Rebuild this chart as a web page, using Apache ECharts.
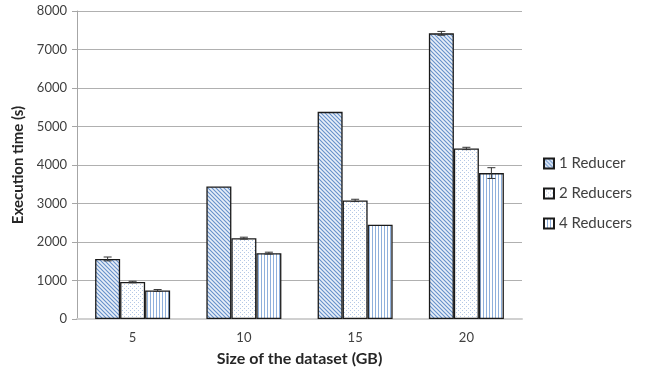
<!DOCTYPE html>
<html><head><meta charset="utf-8">
<script src="https://cdn.jsdelivr.net/npm/echarts@6/dist/echarts.min.js"></script>
<style>html,body{margin:0;padding:0;background:#fff}#c{width:649px;height:376px}</style>
</head><body><div id="c"></div>
<script>
const categories = ['5','10','15','20'];
const seriesNames = ['1 Reducer','2 Reducers','4 Reducers'];
const r1 = [1560, 3440, 5380, 7420];
const r2 = [960, 2100, 3080, 4430];
const r4 = [740, 1710, 2450, 3790];
const e1 = [50, 0, 0, 50];
const e2 = [20, 25, 30, 30];
const e4 = [25, 25, 0, 140];
const yTicks = [0, 1000, 2000, 3000, 4000, 5000, 6000, 7000, 8000];

function pat(kind){
  const c = document.createElement('canvas');
  const ctx = c.getContext('2d');
  if(kind===0){
    c.width=4;c.height=4;
    ctx.fillStyle='#e8eff8';ctx.fillRect(0,0,4,4);
    ctx.strokeStyle='#6690ca';ctx.lineWidth=1.1;
    ctx.beginPath();
    ctx.moveTo(-1,-1);ctx.lineTo(5,5);
    ctx.moveTo(-1,3);ctx.lineTo(1,5);
    ctx.moveTo(3,-1);ctx.lineTo(5,1);
    ctx.stroke();
  } else if(kind===1){
    c.width=4;c.height=4;
    ctx.fillStyle='#ffffff';ctx.fillRect(0,0,4,4);
    ctx.fillStyle='#b4c8e6';
    ctx.fillRect(0,0,1,1);ctx.fillRect(2,2,1,1);
  } else {
    c.width=3;c.height=4;
    ctx.fillStyle='#ffffff';ctx.fillRect(0,0,3,4);
    ctx.fillStyle='#8fb0dc';
    ctx.fillRect(0,0,1,4);
  }
  return {image:c, repeat:'repeat'};
}
const vals=[r1,r2,r4], errs=[e1,e2,e4];
const BW=25;
const series=[];
vals.forEach((v,i)=>{
  series.push({
    name:seriesNames[i], type:'bar', data:v, barWidth:BW, barGap:'0%',
    itemStyle:{color:pat(i), borderColor:'#1a1a1a', borderWidth:1.3},
    emphasis:{disabled:true}
  });
});
vals.forEach((v,i)=>{
  series.push({
    type:'custom', z:10, silent:true,
    data:v.map((y,k)=>[k,y-errs[i][k],y+errs[i][k],errs[i][k]]),
    renderItem:function(params,api){
      if(api.value(3)<=0) return null;
      const lo=api.coord([api.value(0),api.value(1)]);
      const hi=api.coord([api.value(0),api.value(2)]);
      const x=lo[0]+(i-1)*BW;
      const st={stroke:'#333',lineWidth:1};
      return {type:'group',children:[
        {type:'line',shape:{x1:x,y1:lo[1],x2:x,y2:hi[1]},style:st},
        {type:'line',shape:{x1:x-4,y1:lo[1],x2:x+4,y2:lo[1]},style:st},
        {type:'line',shape:{x1:x-4,y1:hi[1],x2:x+4,y2:hi[1]},style:st}
      ]};
    }
  });
});
const chart=echarts.init(document.getElementById('c'),null,{renderer:'canvas'});
chart.setOption({
  animation:false,
  textStyle:{fontFamily:'Lato'},
  grid:{left:77,right:127,top:11,bottom:57},
  legend:{orient:'vertical',left:538,top:151,itemWidth:10,itemHeight:10,itemGap:15,
    icon:'rect',
    data:seriesNames,
    textStyle:{fontSize:15,color:'#404040',fontFamily:'Lato'}},
  xAxis:{type:'category',data:categories,
    name:'Size of the dataset (GB)',nameLocation:'middle',nameGap:32,
    nameTextStyle:{fontSize:16,fontWeight:'bold',color:'#262626',fontFamily:'Lato'},
    axisLine:{lineStyle:{color:'#d0d0d0',width:2}},
    axisTick:{show:false},
    axisLabel:{fontSize:13,color:'#404040',margin:12}},
  yAxis:{type:'value',min:0,max:8000,interval:1000,
    name:'Execution time (s)',nameLocation:'middle',nameGap:48,
    nameTextStyle:{fontSize:15,fontWeight:'bold',color:'#262626',fontFamily:'Lato'},
    axisLine:{show:true,lineStyle:{color:'#a6a6a6'}},
    axisTick:{show:true,length:5,lineStyle:{color:'#a6a6a6'}},
    axisLabel:{fontSize:13,color:'#404040',margin:10,
      formatter:function(v){return yTicks.indexOf(v)>=0?String(v):'';}},
    splitLine:{lineStyle:{color:'#b0b0b0'}}},
  series:series
});
</script></body></html>
